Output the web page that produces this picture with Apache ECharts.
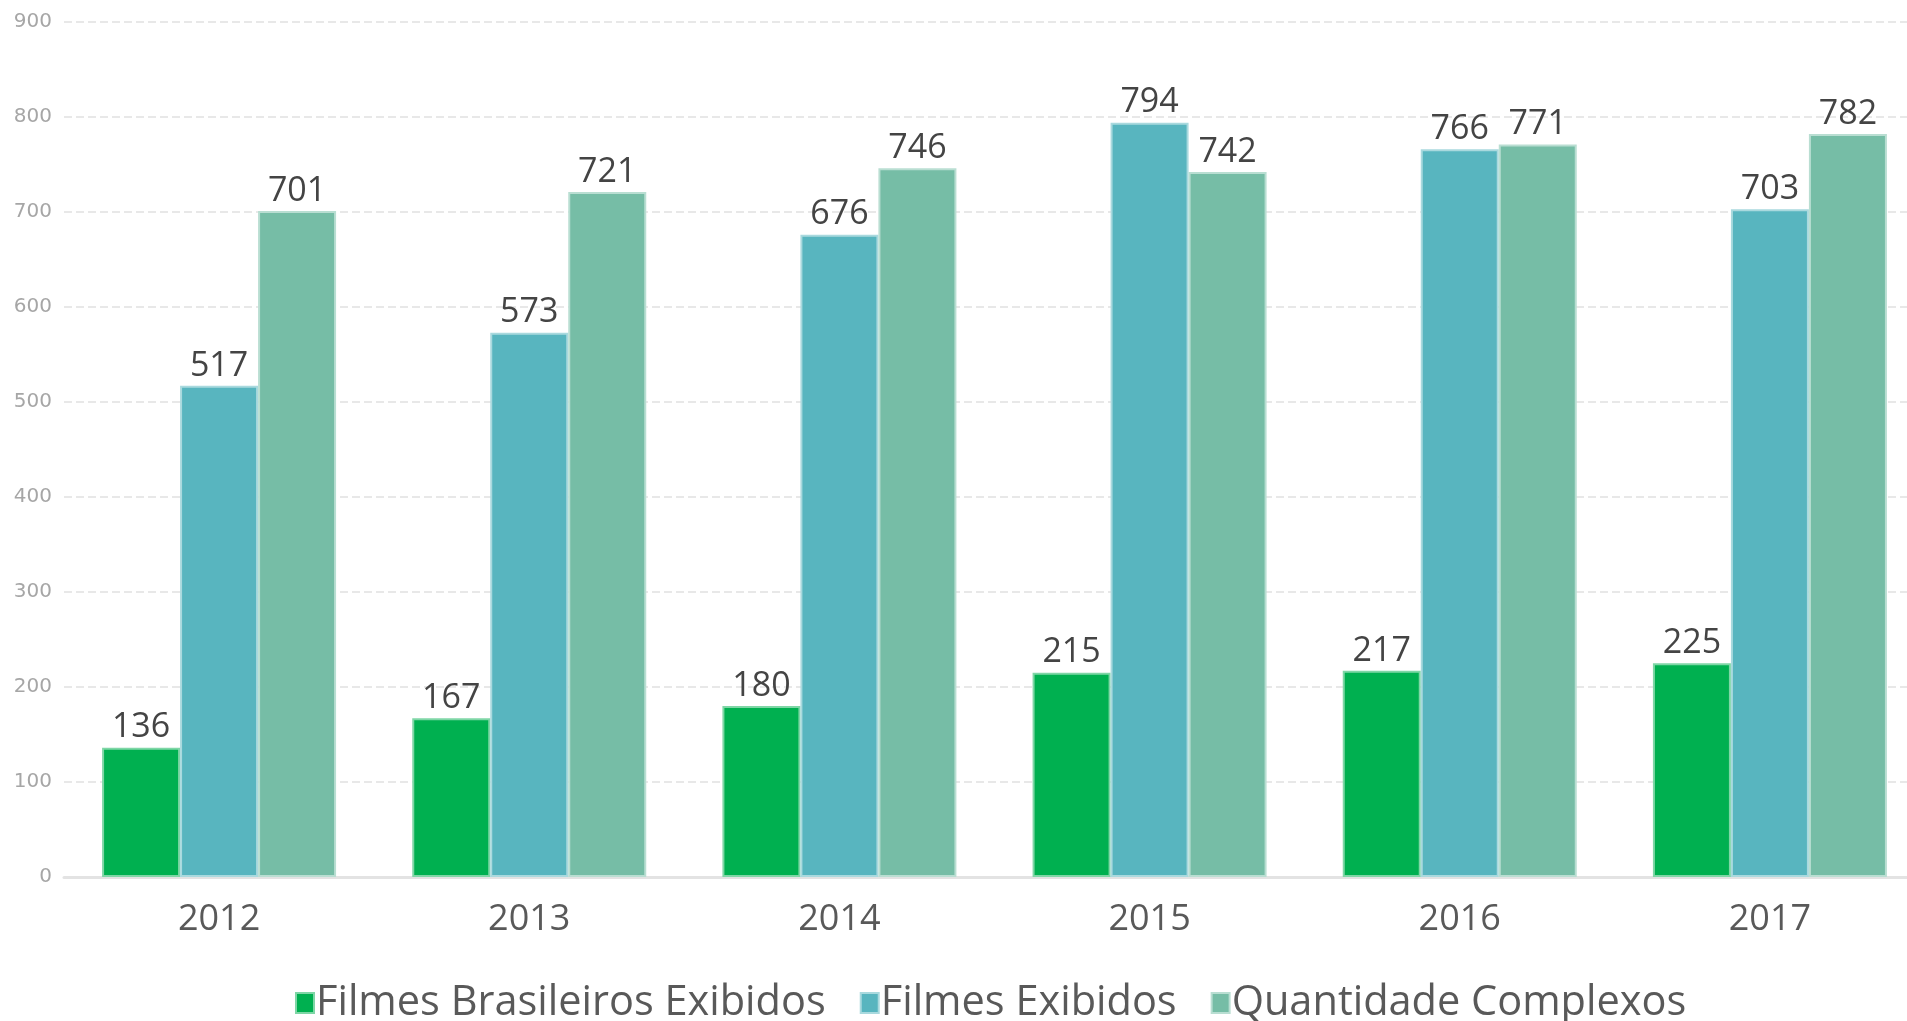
<!DOCTYPE html>
<html>
<head>
<meta charset="utf-8">
<title>Filmes</title>
<script src="https://cdn.jsdelivr.net/npm/echarts@6/dist/echarts.min.js"></script>
<style>
    html, body { margin: 0; padding: 0; background: #fff; overflow: hidden; }
    #chart { width: 1925px; height: 1021px; }
</style>
</head>
<body>
<div id="chart"></div>
<script>
// dados
var anos = ['2012', '2013', '2014', '2015', '2016', '2017'];
var brasileiros = [136, 167, 180, 215, 217, 225];
var exibidos = [517, 573, 676, 794, 766, 703];
var complexos = [701, 721, 746, 742, 771, 782];
var nomes = ['Filmes Brasileiros Exibidos', 'Filmes Exibidos', 'Quantidade Complexos'];
var cores = ['#00B050', '#58B5BF', '#76BDA6'];
var bordas = ['#7fd6a6', '#a9d9de', '#b9ded2'];

var myChart = echarts.init(document.getElementById('chart'));

function serie(i, dados) {
    return {
        name: nomes[i],
        type: 'bar',
        data: dados,
        barWidth: 78,
        barGap: '0%',
        itemStyle: {
            borderColor: bordas[i],
            borderWidth: 2
        },
        label: {
            show: true,
            position: 'top',
            distance: 3,
            color: '#444',
            fontSize: 34,
            fontFamily: 'Open Sans'
        }
    };
}

var option = {
    animation: false,
    color: cores,
    grid: {
        left: 64,
        right: 0,
        top: 22,
        bottom: 144
    },
    legend: {
        data: nomes,
        left: 290,
        top: 973,
        icon: 'rect',
        itemWidth: 18,
        itemHeight: 20,
        itemGap: 34,
        textStyle: {
            color: '#595959',
            fontSize: 41.5,
            lineHeight: 50,
            fontFamily: 'Open Sans',
            padding: [0, 0, 0, -3]
        }
    },
    xAxis: {
        type: 'category',
        data: anos,
        axisLine: { lineStyle: { color: '#e3e3e3', width: 3 } },
        axisTick: { show: false },
        axisLabel: {
            color: '#595959',
            fontSize: 36,
            margin: 25,
            fontFamily: 'Open Sans'
        }
    },
    yAxis: {
        type: 'value',
        min: 0,
        max: 900,
        interval: 100,
        axisLine: { show: false },
        axisTick: { show: false },
        axisLabel: {
            color: '#a6a6a6',
            fontSize: 20,
            margin: 12,
            fontFamily: 'DejaVu Sans'
        },
        splitLine: {
            lineStyle: { color: '#e8e8e8', width: 2, type: [8, 4] }
        }
    },
    series: [
        serie(0, brasileiros),
        serie(1, exibidos),
        serie(2, complexos)
    ]
};

myChart.setOption(option);
</script>
</body>
</html>
